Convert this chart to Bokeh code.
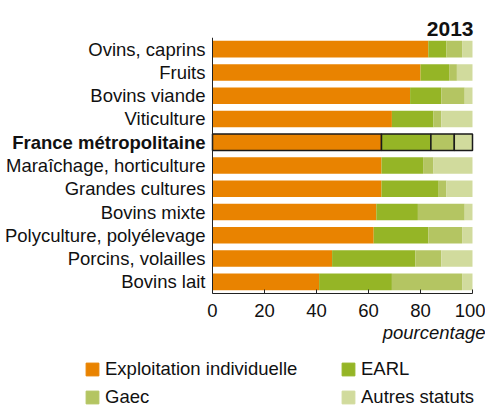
from bokeh.plotting import figure
from bokeh.models import ColumnDataSource, FactorRange, Legend, LegendItem, Title, Span
from bokeh.layouts import column
from bokeh.core.properties import value
from bokeh.embed import file_html
from bokeh.resources import INLINE

categories = ["Ovins, caprins", "Fruits", "Bovins viande", "Viticulture",
              "France métropolitaine", "Maraîchage, horticulture", "Grandes cultures",
              "Bovins mixte", "Polyculture, polyélevage", "Porcins, volailles", "Bovins lait"]
individuelle = [83, 80, 76, 69, 65, 65, 65, 63, 62, 46, 41]
earl = [7, 11, 12, 16, 19, 16, 22, 16, 21, 32, 28]
gaec = [6, 3, 9, 3, 9, 4, 3, 18, 13, 10, 27]
autres = [4, 6, 3, 12, 7, 15, 10, 3, 4, 12, 4]
series_names = ["Exploitation individuelle", "EARL", "Gaec", "Autres statuts"]
colors = ["#E98300", "#95B526", "#B4C562", "#D1DB9D"]
highlight = "France métropolitaine"
x_ticks = [0, 20, 40, 60, 80, 100]

FONT = "Liberation Sans"
FS = "18.5px"
W = 485
PLOT_LEFT = 212      # pixel position of x = 0
PLOT_W = 260         # pixel width of 0..100
px_per_unit = PLOT_W / 100.0

src = ColumnDataSource(dict(
    cat=categories, ind=individuelle, earl=earl, gaec=gaec, autres=autres,
    la=[1.0 if c == highlight else 0.0 for c in categories],
    style=["bold" if c == highlight else "normal" for c in categories],
))

factors = list(reversed(categories))
p = figure(width=W, height=348, output_backend="svg", toolbar_location=None,
           y_range=FactorRange(factors=factors),
           x_range=(-PLOT_LEFT / px_per_unit, 100 + (W - PLOT_LEFT - PLOT_W) / px_per_unit),
           y_axis_location=None,
           min_border_left=0, min_border_right=0, min_border_top=37, min_border_bottom=55)

rs = p.hbar_stack(["ind", "earl", "gaec", "autres"], y="cat", height=0.71, color=colors,
                  source=src, line_color="#1a1a1a", line_alpha="la", line_width=1.5)

# category labels (France in bold)
p.text(x=0, y="cat", text="cat", source=src, x_offset=-7, text_align="right",
       text_baseline="middle", text_font=value(FONT), text_font_size=FS,
       text_font_style="style", text_color="#111111")

# left axis line at x = 0
p.add_layout(Span(location=0, dimension="height", line_color="#222222", line_width=1))

p.outline_line_color = None
p.xgrid.grid_line_color = None
p.ygrid.grid_line_color = None

xa = p.xaxis[0]
xa.ticker = x_ticks
xa.bounds = (0, 100)
xa.major_tick_in = 4
xa.major_tick_out = 0
xa.minor_tick_line_color = None
xa.axis_line_color = "#222222"
xa.major_tick_line_color = "#222222"
xa.major_label_text_font = FONT
xa.major_label_text_font_size = FS
xa.major_label_text_color = "#111111"
xa.major_label_standoff = 10

p.title = Title(text="2013", align="right", text_font=FONT, text_font_size="21px",
                text_font_style="bold", text_color="#111111", standoff=4, offset=12)

p.add_layout(Title(text="pourcentage", align="right", text_font=FONT, text_font_size=FS,
                   text_font_style="italic", text_color="#111111", offset=0, standoff=0),
             "below")

# legend in its own strip below the chart (keys from hidden copies of the same stack)
p2 = figure(width=W, height=60, output_backend="svg", toolbar_location=None,
            x_range=(0, 100), y_range=FactorRange(factors=factors),
            x_axis_location=None, y_axis_location=None, min_border=0)
p2.outline_line_color = None
p2.xgrid.grid_line_color = None
p2.ygrid.grid_line_color = None
lrs = p2.hbar_stack(["ind", "earl", "gaec", "autres"], y="cat", height=0.71, color=colors,
                    source=src, visible=False)
legend = Legend(items=[LegendItem(label=n, renderers=[r]) for n, r in zip(series_names, lrs)],
                orientation="horizontal", ncols=2, location=(84, 0),
                glyph_width=16, glyph_height=16, label_standoff=5,
                label_width=229, label_height=20, spacing=6, padding=0, margin=0,
                label_text_font=FONT, label_text_font_size=FS, label_text_color="#111111",
                border_line_color=None, background_fill_alpha=0)
p2.add_layout(legend, "center")

open("out.html", "w").write(file_html(column(p, p2, spacing=0), INLINE))
